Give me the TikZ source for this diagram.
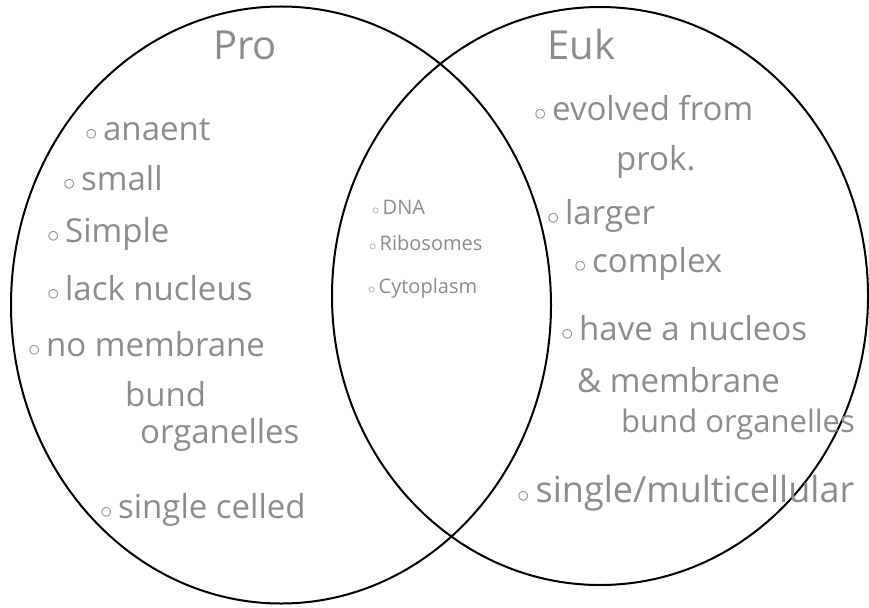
\documentclass[tikz,border=0pt]{standalone}
\usepackage{fontspec}
\usepackage{xcolor}
\setmainfont{Open Sans}
\usetikzlibrary{positioning, shapes.geometric}

\newcommand{\bul}{$\scriptstyle\circ$\,}

\begin{document}
\begin{tikzpicture}[
						x=1pt, y=-1pt,
						setring/.style={ellipse, draw=black, line width=2pt, inner sep=0pt, minimum width=#1},
						title/.style={anchor=base west, inner sep=0pt, text=black!45, font=\fontsize{40}{44}\selectfont},
						item/.style={anchor=base west, inner sep=0pt, text=black!45, font=\fontsize{33}{36}\selectfont},
						shared/.style={anchor=base west, inner sep=0pt, text=black!45, font=\fontsize{20}{22}\selectfont}
						]
						
						\useasboundingbox (0,0) rectangle (869,607);
						
						% the two sets
						\node [setring=540pt, minimum height=597pt] (pro) at (281,305) {};
						\node [setring=536pt, minimum height=578pt] (euk) at (600,296) {};
						
						\node [title] (pro_title) at (213,60) {Pro};
						\node [title] (euk_title) at (547,60) {Euk};
						
						% prokaryotes only
						\node [item] (pro1) at (85,140) {\bul anaent};
						\node [item] (pro2) at (63,190) {\bul small};
						\node [item] (pro3) at (47,242) {\bul Simple};
						\node [item] (pro4) at (47,300) {\bul lack nucleus};
						\node [item] (pro5) at (28,356) {\bul no membrane};
						\node [item] (pro6) at (125,406) {bund};
						\node [item] (pro7) at (140,443) {organelles};
						\node [item] (pro8) at (100,518) {\bul single celled};
						
						% both
						\node [shared] (both1) at (372,214) {\bul DNA};
						\node [shared] (both2) at (369,250) {\bul Ribosomes};
						\node [shared] (both3) at (368,293) {\bul Cytoplasm};
						
						% eukaryotes only
						\node [item] (euk1) at (534,121) {\bul evolved from};
						\node [item] (euk2) at (616,170) {prok.};
						\node [item] (euk3) at (547,224) {\bul larger};
						\node [item] (euk4) at (574,272) {\bul complex};
						\node [item] (euk5) at (561,340) {\bul have a nucleos};
						\node [item] (euk6) at (577,392) {\& membrane};
						\node [item, font=\fontsize{31}{34}\selectfont] (euk7) at (621,432) {bund organelles};
						\node [item, font=\fontsize{36}{38}\selectfont] (euk8) at (517,502) {\bul single/multicellular};
					\end{tikzpicture}
\end{document}
